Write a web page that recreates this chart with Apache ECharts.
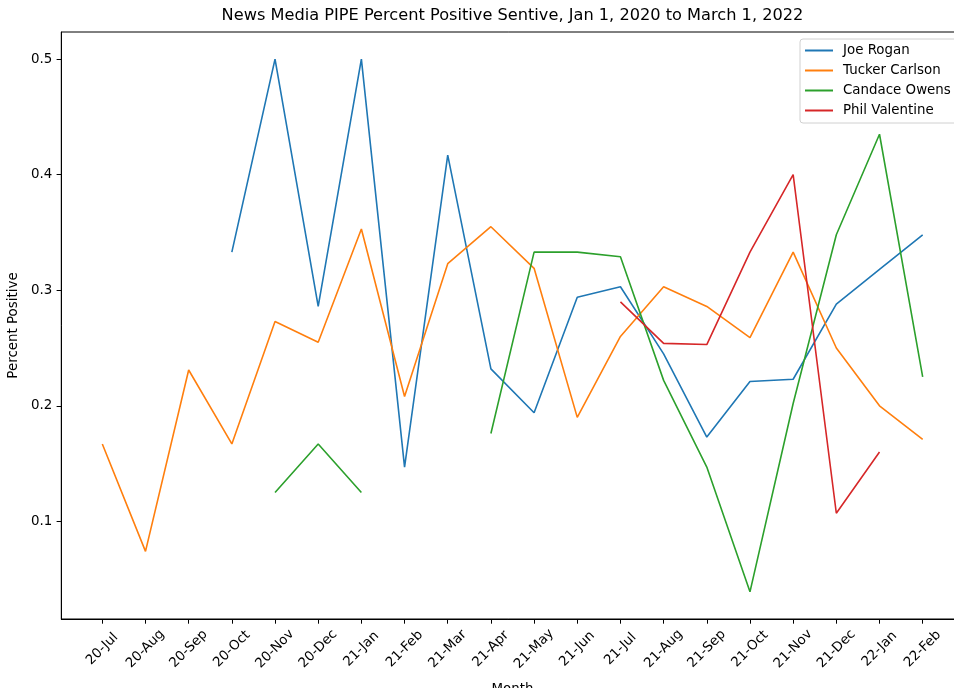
<!DOCTYPE html>
<html>
<head>
<meta charset="utf-8">
<script src="https://cdn.jsdelivr.net/npm/echarts@6/dist/echarts.min.js"></script>
<style>
  html, body { margin: 0; padding: 0; background: #fff; }
  #chart { width: 954px; height: 688px; }
</style>
</head>
<body>
<div id="chart"></div>
<script>
// Months on the x axis
const months = ['20-Jul','20-Aug','20-Sep','20-Oct','20-Nov','20-Dec','21-Jan','21-Feb','21-Mar','21-Apr',
                '21-May','21-Jun','21-Jul','21-Aug','21-Sep','21-Oct','21-Nov','21-Dec','22-Jan','22-Feb'];

// Share of positive sentiment per month (null = no data that month)
const joeRogan      = [null, null, null, 0.333, 0.5, 0.286, 0.5, 0.147, 0.417, 0.232,
                       0.194, 0.294, 0.303, 0.245, 0.173, 0.221, 0.223, 0.288, 0.318, 0.348];
const tuckerCarlson = [0.167, 0.074, 0.231, 0.167, 0.273, 0.255, 0.353, 0.208, 0.323, 0.355,
                       0.319, 0.19, 0.26, 0.303, 0.286, 0.259, 0.333, 0.25, 0.2, 0.171];
const candaceOwens  = [null, null, null, null, 0.125, 0.167, 0.125, null, null, 0.176,
                       0.333, 0.333, 0.329, 0.222, 0.147, 0.039, 0.202, 0.348, 0.435, 0.225];
const philValentine = [null, null, null, null, null, null, null, null, null, null,
                       null, null, 0.29, 0.254, 0.253, 0.333, 0.4, 0.107, 0.16, null];

const yTicks = [0.1, 0.2, 0.3, 0.4, 0.5];

const FONT = 'DejaVu Sans';
const seriesDefs = [
  { name: 'Joe Rogan', values: joeRogan, color: '#1f77b4' },
  { name: 'Tucker Carlson', values: tuckerCarlson, color: '#ff7f0e' },
  { name: 'Candace Owens', values: candaceOwens, color: '#2ca02c' },
  { name: 'Phil Valentine', values: philValentine, color: '#d62728' }
];

const chart = echarts.init(document.getElementById('chart'), null, { renderer: 'canvas' });

chart.setOption({
  animation: false,
  backgroundColor: '#fff',
  textStyle: { fontFamily: FONT },
  title: {
    text: 'News Media PIPE Percent Positive Sentive, Jan 1, 2020 to March 1, 2022',
    left: 507.5,
    textAlign: 'center',
    top: 3,
    textStyle: { fontFamily: FONT, fontSize: 16.2, fontWeight: 'normal', color: '#000' }
  },
  legend: {
    orient: 'vertical',
    left: 800,
    top: 39,
    padding: [4, 10, 5, 5],
    icon: 'rect',
    itemWidth: 28,
    itemHeight: 2,
    itemGap: 5,
    backgroundColor: 'rgba(255,255,255,0.8)',
    borderColor: '#d0d0d0',
    borderWidth: 1,
    borderRadius: 3,
    textStyle: { fontFamily: FONT, fontSize: 13.4, color: '#000', lineHeight: 15, padding: [0, 0, 0, 5] },
    data: seriesDefs.map(s => s.name)
  },
  grid: {
    left: 61.3,
    right: -9.7,
    top: 32,
    bottom: 69,
    show: true,
    borderColor: '#000',
    borderWidth: 1,
    containLabel: false,
    outerBoundsMode: 'none'
  },
  xAxis: {
    type: 'value',
    min: -0.95,
    max: 19.95,
    name: 'Month',
    nameLocation: 'middle',
    nameGap: 64,
    nameTextStyle: { fontFamily: FONT, fontSize: 13.4, color: '#000' },
    axisLine: { show: true, onZero: false, lineStyle: { color: '#000', width: 1 } },
    axisTick: { show: true, length: 4.7, lineStyle: { color: '#000', width: 1 },
                customValues: months.map((m, i) => i) },
    axisLabel: {
      customValues: months.map((m, i) => i),
      formatter: v => months[Math.round(v)],
      rotate: 45,
      align: 'center',
      verticalAlign: 'middle',
      margin: 30,
      fontFamily: FONT,
      fontSize: 13.4,
      color: '#000'
    },
    splitLine: { show: false }
  },
  yAxis: {
    type: 'value',
    min: 0.0155,
    max: 0.5235,
    name: 'Percent Positive',
    nameLocation: 'middle',
    nameGap: 36,
    nameRotate: 90,
    nameTextStyle: { fontFamily: FONT, fontSize: 13.4, color: '#000' },
    axisLine: { show: true, onZero: false, lineStyle: { color: '#000', width: 1 } },
    axisTick: { show: true, length: 4.7, lineStyle: { color: '#000', width: 1 }, customValues: yTicks },
    axisLabel: {
      customValues: yTicks,
      formatter: v => v.toFixed(1),
      margin: 9,
      fontFamily: FONT,
      fontSize: 13.4,
      color: '#000'
    },
    splitLine: { show: false }
  },
  series: seriesDefs.map(s => ({
    name: s.name,
    type: 'line',
    symbol: 'none',
    connectNulls: false,
    color: s.color,
    lineStyle: { color: s.color, width: 1.6 },
    data: s.values.map((v, i) => [i, v === null ? '-' : v])
  }))
});
</script>
</body>
</html>
